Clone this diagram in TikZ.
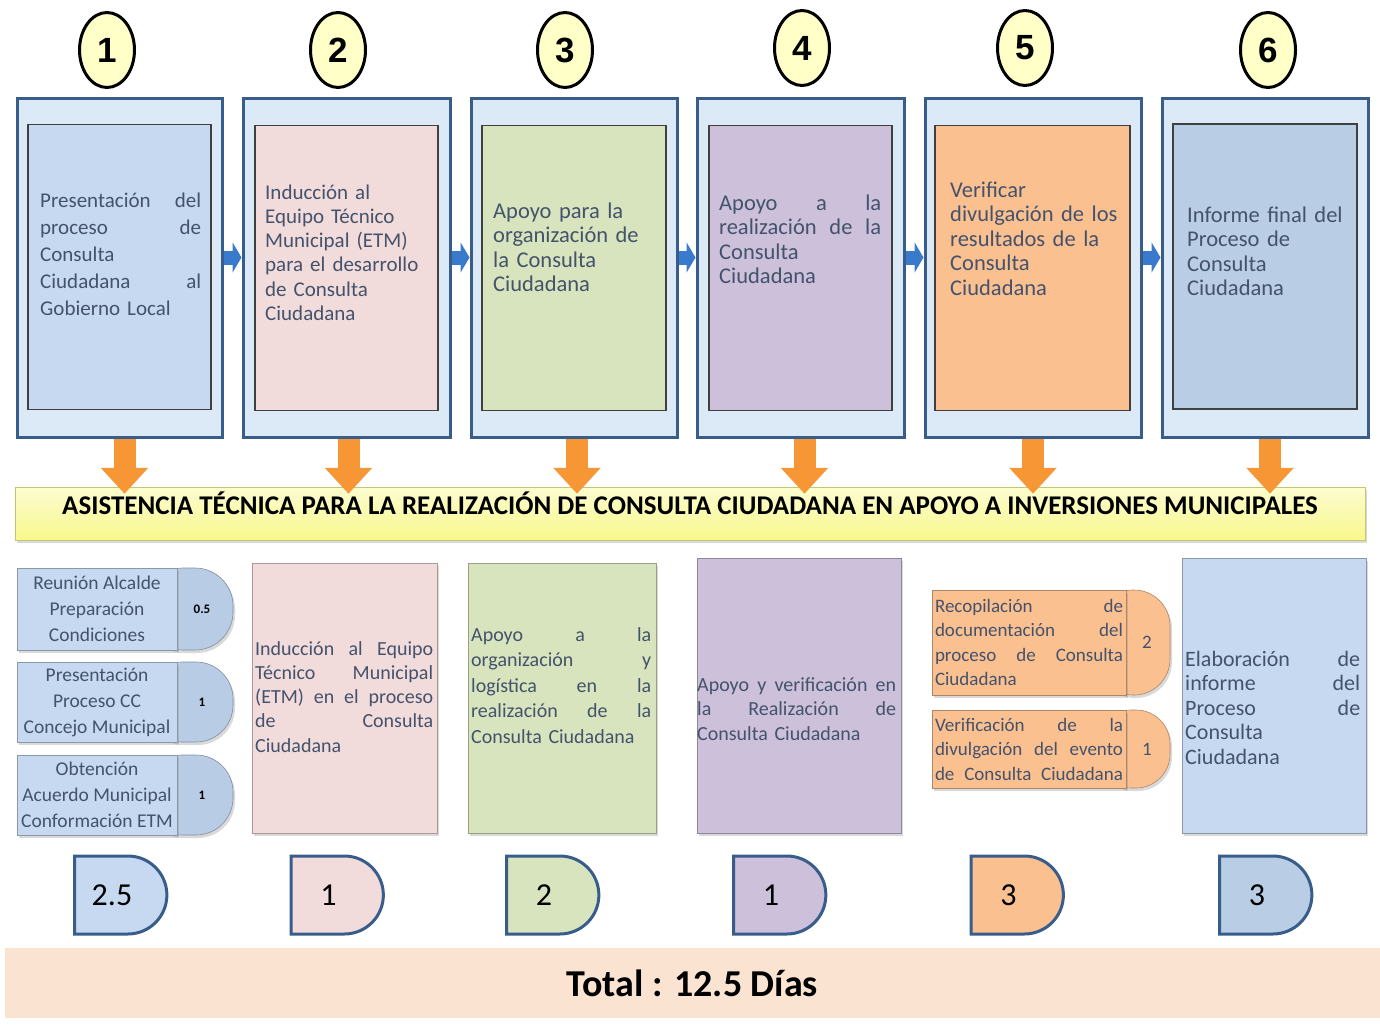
\documentclass[tikz,border=0pt]{standalone}
\usepackage{fontspec}
\setmainfont{Carlito}
\newfontfamily\digitfont{Liberation Sans}
\usetikzlibrary{arrows.meta,shapes.geometric,shapes.misc,shadows}
\definecolor{frameblue}{RGB}{56,93,138}
\definecolor{paleblue}{RGB}{220,233,246}
\definecolor{numyellow}{RGB}{255,255,200}
\definecolor{txtblue}{RGB}{68,82,108}
\definecolor{cblue}{RGB}{198,217,241}
\definecolor{cpink}{RGB}{242,220,219}
\definecolor{cgreen}{RGB}{215,228,189}
\definecolor{clilac}{RGB}{204,192,218}
\definecolor{corange}{RGB}{250,192,144}
\definecolor{csteel}{RGB}{185,205,229}
\definecolor{tabblue}{RGB}{184,204,230}
\definecolor{arrowblue}{RGB}{58,122,205}
\definecolor{arroworange}{RGB}{247,150,52}
\definecolor{banneryellow}{RGB}{248,248,140}
\definecolor{peach}{RGB}{251,227,210}
\tikzset{
NUM/.style={ellipse,draw=black,line width=3pt,fill=numyellow,minimum width=55pt,minimum height=75pt,inner sep=0pt,font=\digitfont\bfseries\fontsize{35}{35}\selectfont},
OUTER/.style={draw=frameblue,line width=3pt,fill=paleblue,minimum height=339pt},
INNER/.style={draw=black!75,line width=1.2pt,fill=#1,minimum height=285pt},
INNER/.default=cblue,
TXT/.style={text=txtblue,align=left,inner sep=0pt,anchor=base west,font=\fontsize{22.5}{24.5}\selectfont},
RIGHTARC/.style={arrowblue,line width=14pt,-{Triangle[length=9pt,width=30pt]}},
DOWNARC/.style={arroworange,line width=22pt,-{Triangle[length=26pt,width=46pt]}},
SHADE/.style={drop shadow={shadow xshift=2pt,shadow yshift=-3pt,opacity=.3}},
BANNER/.style={top color=banneryellow!40!white,bottom color=banneryellow,draw=banneryellow!80!black,line width=.5pt,SHADE,minimum width=1350pt,minimum height=53pt,text height=19pt,text depth=17pt,font=\bfseries\fontsize{27}{27}\selectfont},
LOWBOX/.style={draw=#1!70!black,line width=.8pt,fill=#1,SHADE},
TAB/.style={draw=#1!70!black,line width=.6pt,fill=#1,rounded corners=36pt,SHADE},
SMALL/.style={draw=#1!70!black,line width=.6pt,fill=#1,SHADE,text=txtblue,inner sep=0pt},
DAYS/.style={rounded rectangle,rounded rectangle left arc=none,draw=frameblue,line width=3pt,fill=#1,minimum width=99pt,minimum height=78pt,font=\fontsize{32}{32}\selectfont},
}

\begin{document}
\begin{tikzpicture}[x=1pt,y=-1pt]
	\useasboundingbox (0,0) rectangle (1380,1025);
	%Step numbers
	\node[NUM] (n1) at (107,50) {1};
	\node[NUM] (n2) at (338,50) {2};
	\node[NUM] (n3) at (565,50) {3};
	\node[NUM] (n4) at (802,48) {4};
	\node[NUM] (n5) at (1025,48) {5};
	\node[NUM] (n6) at (1268,50) {6};
	%Steps
	\node[OUTER,minimum width=205pt] (o1) at (119.5,267.5) {};
	\node[INNER=cblue,minimum width=183pt] (i1) at (119.5,267) {};
	\node[TXT,text width=161pt,font=\fontsize{21}{27}\selectfont] (t1) at (40,207)
		{Presentación\hfill del\\proceso\hfill de\\Consulta\\Ciudadana\hfill al\\Gobierno Local};
	\node[OUTER,minimum width=207pt] (o2) at (346.5,267.5) {};
	\node[INNER=cpink,minimum width=183pt] (i2) at (346.5,268) {};
	\node[TXT,text width=165pt,font=\fontsize{21}{24.3}\selectfont] (t2) at (265,199)
		{Inducción al\\Equipo Técnico\\Municipal (ETM)\\para el desarrollo\\de Consulta\\Ciudadana};
	\node[OUTER,minimum width=206pt] (o3) at (574,267.5) {};
	\node[INNER=cgreen,minimum width=184pt] (i3) at (574,268) {};
	\node[TXT,text width=165pt] (t3) at (493,218)
		{Apoyo para la\\organización de\\la Consulta\\Ciudadana};
	\node[OUTER,minimum width=207pt] (o4) at (800.5,267.5) {};
	\node[INNER=clilac,minimum width=183pt] (i4) at (800.5,268) {};
	\node[TXT,text width=162pt] (t4) at (719,210)
		{Apoyo\hfill a\hfill la\\realización\hfill de\hfill la\\Consulta\\Ciudadana};
	\node[OUTER,minimum width=216pt] (o5) at (1033,267.5) {};
	\node[INNER=corange,minimum width=195pt] (i5) at (1032.5,268) {};
	\node[TXT,text width=175pt] (t5) at (950,197)
		{Verificar\\divulgación de los\\resultados de la\\Consulta\\Ciudadana};
	\node[OUTER,minimum width=206pt] (o6) at (1265,267.5) {};
	\node[INNER=csteel,minimum width=184pt] (i6) at (1265,266.5) {};
	\node[TXT,text width=170pt] (t6) at (1187,222)
		{Informe final del\\Proceso de\\Consulta\\Ciudadana};
	%Flow
	\draw[RIGHTARC] ([yshift=10pt]o1.east) -- ([yshift=10pt]o2.west);
	\draw[RIGHTARC] ([yshift=10pt]o2.east) -- ([yshift=10pt]o3.west);
	\draw[RIGHTARC] ([yshift=10pt]o3.east) -- ([yshift=10pt]o4.west);
	\draw[RIGHTARC] ([yshift=10pt]o4.east) -- ([yshift=10pt]o5.west);
	\draw[RIGHTARC] ([yshift=10pt]o5.east) -- ([yshift=10pt]o6.west);
	%Banner
	\node[BANNER] (banner) at (690,513.5)
		{ASISTENCIA TÉCNICA PARA LA REALIZACIÓN DE CONSULTA CIUDADANA EN APOYO A INVERSIONES MUNICIPALES};
	\draw[DOWNARC] ([xshift=5pt]o1.south) -- ([xshift=5pt,yshift=-7pt]o1.south |- banner.north);
	\draw[DOWNARC] ([xshift=2pt]o2.south) -- ([xshift=2pt,yshift=-7pt]o2.south |- banner.north);
	\draw[DOWNARC] ([xshift=3pt]o3.south) -- ([xshift=3pt,yshift=-7pt]o3.south |- banner.north);
	\draw[DOWNARC] ([xshift=4pt]o4.south) -- ([xshift=4pt,yshift=-7pt]o4.south |- banner.north);
	\draw[DOWNARC] (o5.south) -- ([yshift=-7pt]o5.south |- banner.north);
	\draw[DOWNARC] ([xshift=5pt]o6.south) -- ([xshift=5pt,yshift=-7pt]o6.south |- banner.north);
	%Activities, step 1
	\node[TAB=tabblue,minimum width=88pt,minimum height=82pt,rounded corners=38pt] (ka) at (189,609) {};
	\node[SMALL=cblue,minimum width=160pt,minimum height=82pt,align=center,font=\fontsize{19.5}{26}\selectfont] (sa) at (97,609)
		{Reunión Alcalde\\Preparación\\Condiciones};
	\node[font=\bfseries\fontsize{13}{13}\selectfont] (da) at (202,609) {0.5};
	\node[TAB=tabblue,minimum width=88pt,minimum height=80pt,rounded corners=37pt] (kb) at (189,702) {};
	\node[SMALL=cblue,minimum width=160pt,minimum height=80pt,align=center,font=\fontsize{19.5}{26}\selectfont] (sb) at (97,702)
		{Presentación\\Proceso CC\\Concejo Municipal};
	\node[font=\bfseries\fontsize{13}{13}\selectfont] (db) at (202,702) {1};
	\node[TAB=tabblue,minimum width=88pt,minimum height=80pt,rounded corners=37pt] (kc) at (189,795) {};
	\node[SMALL=cblue,minimum width=160pt,minimum height=80pt,align=center,font=\fontsize{19.5}{26}\selectfont] (sc) at (97,795)
		{Obtención\\Acuerdo Municipal\\Conformación ETM};
	\node[font=\bfseries\fontsize{13}{13}\selectfont] (dc) at (202,795) {1};
	%Activities, steps 2 to 4
	\node[LOWBOX=cpink,minimum width=185pt,minimum height=270pt] (b2) at (344.5,698) {};
	\node[TXT,text width=178pt,font=\fontsize{20}{24.3}\selectfont] (u2) at (255,655)
		{Inducción\hfill al\hfill Equipo\\Técnico\hfill Municipal\\(ETM)\hfill en\hfill el\hfill proceso\\de\hfill Consulta\\Ciudadana};
	\node[LOWBOX=cgreen,minimum width=188pt,minimum height=270pt] (b3) at (562,698) {};
	\node[TXT,text width=180pt,font=\fontsize{20}{25.5}\selectfont] (u3) at (471,641)
		{Apoyo\hfill a\hfill la\\organización\hfill y\\logística\hfill en\hfill la\\realización\hfill de\hfill la\\Consulta Ciudadana};
	\node[LOWBOX=clilac,minimum width=204pt,minimum height=275pt] (b4) at (799,695.5) {};
	\node[TXT,text width=199pt,font=\fontsize{20}{24.5}\selectfont] (u4) at (697,691)
		{Apoyo\hfill y\hfill verificación\hfill en\\la\hfill Realización\hfill de\\Consulta Ciudadana};
	%Activities, step 5
	\node[TAB=corange,minimum width=73pt,minimum height=105pt] (ke) at (1133.5,642.5) {};
	\node[SMALL=corange,minimum width=194pt,minimum height=105pt,text width=188pt,align=left,font=\fontsize{19}{24.5}\selectfont] (se) at (1029,642.5)
		{Recopilación\hfill de\\documentación\hfill del\\proceso\hfill de\hfill Consulta\\Ciudadana};
	\node[text=txtblue,font=\fontsize{19}{19}\selectfont] (de) at (1147,642.5) {2};
	\node[TAB=corange,minimum width=73pt,minimum height=78pt,rounded corners=34pt] (kf) at (1133.5,749) {};
	\node[SMALL=corange,minimum width=194pt,minimum height=78pt,text width=188pt,align=left,font=\fontsize{19}{24.5}\selectfont] (sf) at (1029,749)
		{Verificación\hfill de\hfill la\\divulgación\hfill del\hfill evento\\de\hfill Consulta\hfill Ciudadana};
	\node[text=txtblue,font=\fontsize{19}{19}\selectfont] (df) at (1147,749) {1};
	%Activities, step 6
	\node[LOWBOX=cblue,minimum width=184pt,minimum height=275pt] (b6) at (1274,695.5) {};
	\node[TXT,text width=175pt,font=\fontsize{22}{24.5}\selectfont] (u6) at (1185,666)
		{Elaboración\hfill de\\informe\hfill del\\Proceso\hfill de\\Consulta\\Ciudadana};
	%Days
	\node[DAYS=cblue] (d1) at (120,895) {2.5\kern16pt};
	\node[DAYS=cpink] (d2) at (336.5,895) {1\kern16pt};
	\node[DAYS=cgreen] (d3) at (552,895) {2\kern16pt};
	\node[DAYS=clilac] (d4) at (779,895) {1\kern16pt};
	\node[DAYS=corange] (d5) at (1016.5,895) {3\kern16pt};
	\node[DAYS=csteel] (d6) at (1265,895) {3\kern16pt};
	%Total
	\node[fill=peach,minimum width=1375pt,minimum height=70pt,font=\bfseries\fontsize{38}{38}\selectfont] (total) at (692.5,983)
		{Total : 12.5 Días};
\end{tikzpicture}
\end{document}
